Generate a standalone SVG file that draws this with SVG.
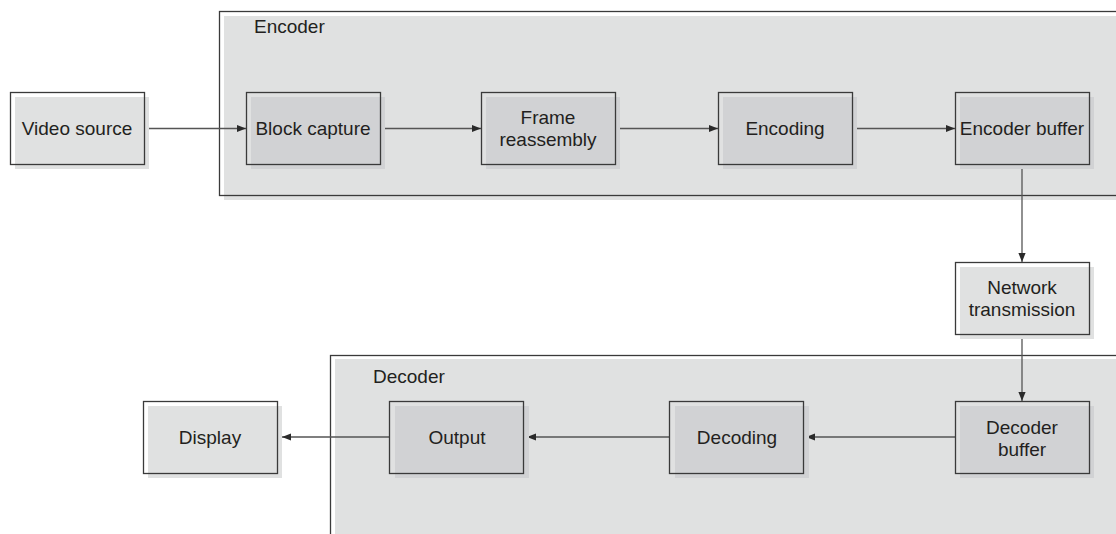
<svg xmlns="http://www.w3.org/2000/svg" width="1116" height="534" viewBox="0 0 1116 534">
<style>
text{font-family:"Liberation Sans",Arial,Helvetica,sans-serif;font-size:19px;fill:#231f20;text-anchor:middle}
.lbl{text-anchor:start}
.ol{fill:none;stroke:#3a3a3a;stroke-width:1.3}
.sh-l{fill:#e0e1e1}
.sh-d{fill:#d1d2d4}
.cont{fill:#e0e1e1}
.con{fill:none;stroke:#555;stroke-width:1.3}
</style>
<defs>
<marker id="ah" viewBox="0 0 10 10" refX="10" refY="5" markerWidth="9" markerHeight="9" markerUnits="userSpaceOnUse" orient="auto">
<path d="M0,1 L10,5 L0,9 z" fill="#2a2a2a"/>
</marker>
</defs>
<rect width="1116" height="534" fill="#fff"/>
<g id="encoder">
<rect class="cont" x="224" y="16" width="920" height="184"/>
<rect class="ol" x="219.5" y="11.5" width="920" height="184"/>
<text class="lbl" x="254" y="33">Encoder</text>
</g>
<g id="decoder">
<rect class="cont" x="335" y="359" width="820" height="200"/>
<rect class="ol" x="330.5" y="355.5" width="820" height="200"/>
<text class="lbl" x="373" y="383">Decoder</text>
</g>
<g id="connectors">
<line class="con" x1="144" y1="128.5" x2="246" y2="128.5" marker-end="url(#ah)"/>
<line class="con" x1="380" y1="128.5" x2="481" y2="128.5" marker-end="url(#ah)"/>
<line class="con" x1="615" y1="128.5" x2="718" y2="128.5" marker-end="url(#ah)"/>
<line class="con" x1="852" y1="128.5" x2="955" y2="128.5" marker-end="url(#ah)"/>
<line class="con" x1="1022" y1="164" x2="1022" y2="262" marker-end="url(#ah)"/>
<line class="con" x1="1022" y1="334" x2="1022" y2="401" marker-end="url(#ah)"/>
<line class="con" x1="955" y1="437" x2="806" y2="437" marker-end="url(#ah)"/>
<line class="con" x1="669.5" y1="437" x2="527" y2="437" marker-end="url(#ah)"/>
<line class="con" x1="389.5" y1="437" x2="282" y2="437" marker-end="url(#ah)"/>
</g>
<g id="video-source">
<rect class="sh-l" x="15" y="97" width="134" height="72"/>
<rect class="ol" x="10.5" y="92.5" width="134" height="72"/>
<text x="77" y="135">Video source</text>
</g>
<g id="block-capture">
<rect class="sh-d" x="251" y="97" width="134" height="72"/>
<rect class="ol" x="246.5" y="92.5" width="134" height="72"/>
<text x="313" y="135">Block capture</text>
</g>
<g id="frame-reassembly">
<rect class="sh-d" x="486" y="97" width="134" height="72"/>
<rect class="ol" x="481.5" y="92.5" width="134" height="72"/>
<text x="548" y="124">Frame</text>
<text x="548" y="145.5">reassembly</text>
</g>
<g id="encoding">
<rect class="sh-d" x="723" y="97" width="134" height="72"/>
<rect class="ol" x="718.5" y="92.5" width="134" height="72"/>
<text x="785" y="135">Encoding</text>
</g>
<g id="encoder-buffer">
<rect class="sh-d" x="960" y="97" width="134" height="72"/>
<rect class="ol" x="955.5" y="92.5" width="134" height="72"/>
<text x="1022" y="135">Encoder buffer</text>
</g>
<g id="network-transmission">
<rect class="sh-l" x="960" y="267" width="134" height="72"/>
<rect class="ol" x="955.5" y="262.5" width="134" height="72"/>
<text x="1022" y="294">Network</text>
<text x="1022" y="315.5">transmission</text>
</g>
<g id="decoder-buffer">
<rect class="sh-d" x="960" y="406" width="134" height="72"/>
<rect class="ol" x="955.5" y="401.5" width="134" height="72"/>
<text x="1022" y="434">Decoder</text>
<text x="1022" y="455.5">buffer</text>
</g>
<g id="decoding">
<rect class="sh-d" x="675" y="406" width="134" height="72"/>
<rect class="ol" x="669.5" y="401.5" width="134" height="72"/>
<text x="737" y="444">Decoding</text>
</g>
<g id="output">
<rect class="sh-d" x="395" y="406" width="134" height="72"/>
<rect class="ol" x="389.5" y="401.5" width="134" height="72"/>
<text x="457" y="444">Output</text>
</g>
<g id="display">
<rect class="sh-l" x="148" y="406" width="134" height="72"/>
<rect class="ol" x="143.5" y="401.5" width="134" height="72"/>
<text x="210" y="444">Display</text>
</g>
</svg>
